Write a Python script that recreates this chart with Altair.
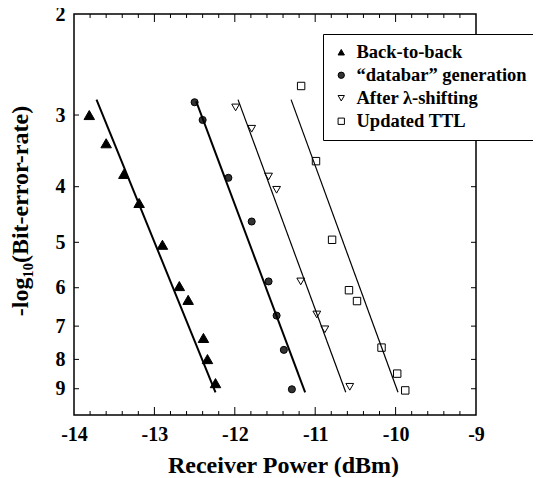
import altair as alt
import pandas as pd

series_names = ["Back-to-back", "\u201cdatabar\u201d generation", "After \u03bb-shifting", "Updated TTL"]

btb_x = [-13.81, -13.60, -13.38, -13.19, -12.90, -12.69, -12.58, -12.39, -12.34, -12.24]
btb_y = [3.00, 3.36, 3.80, 4.27, 5.05, 5.96, 6.30, 7.34, 7.99, 8.80]
db_x = [-12.50, -12.40, -12.08, -11.79, -11.58, -11.48, -11.39, -11.29]
db_y = [2.85, 3.06, 3.86, 4.60, 5.85, 6.71, 7.70, 9.02]
al_x = [-11.99, -11.79, -11.58, -11.48, -11.18, -10.98, -10.88, -10.57]
al_y = [2.91, 3.17, 3.84, 4.05, 5.85, 6.68, 7.09, 8.93]
ttl_x = [-11.175, -10.99, -10.79, -10.58, -10.48, -10.175, -9.98, -9.88]
ttl_y = [2.67, 3.61, 4.95, 6.06, 6.33, 7.63, 8.47, 9.06]

fit_x0 = [-13.72, -12.48, -11.96, -11.30]
fit_x1 = [-12.24, -11.125, -10.62, -9.97]
fit_y0 = [2.82, 2.84, 2.82, 2.82]
fit_y1 = [9.13, 9.13, 9.13, 9.13]

x_labels = [-14, -13, -12, -11, -10, -9]
x_major_ticks = [-13, -12, -11, -10]
x_minor_ticks = [-13.8, -13.6, -13.4, -13.2, -12.8, -12.6, -12.4, -12.2,
                 -11.8, -11.6, -11.4, -11.2, -10.8, -10.6, -10.4, -10.2,
                 -9.8, -9.6, -9.4, -9.2]
y_labels = [2, 3, 4, 5, 6, 7, 8, 9]
y_ticks = [3, 4, 5, 6, 7, 8, 9]

marker_sizes = [110, 50, 60, 55]
line_widths = [2, 2, 1.2, 1.2]

W, H = 402, 401
FONT = "Liberation Serif"

rows = []
for name, xs, ys in zip(series_names, [btb_x, db_x, al_x, ttl_x], [btb_y, db_y, al_y, ttl_y]):
    for a, b in zip(xs, ys):
        rows.append({"series": name, "power": a, "ber": b})
pts = pd.DataFrame(rows)

lrows = []
for name, a0, a1, b0, b1 in zip(series_names, fit_x0, fit_x1, fit_y0, fit_y1):
    lrows.append({"series": name, "power": a0, "ber": b0})
    lrows.append({"series": name, "power": a1, "ber": b1})
lines_df = pd.DataFrame(lrows)

xscale = alt.Scale(domain=[-14, -9], nice=False, zero=False)
yscale = alt.Scale(type="log", domain=[2, 10], reverse=True, nice=False)

xaxis = alt.Axis(values=x_labels, labelExpr="datum.value + ''", ticks=False, domain=False,
                 grid=False, labelPadding=9, labelFlush=False, title="Receiver Power (dBm)",
                 titleX=209, titleY=57, titleAlign="center", titleBaseline="alphabetic")
yaxis = alt.Axis(values=y_labels, labelExpr="datum.value + ''", ticks=False, domain=False,
                 grid=False, labelPadding=9, labelFlush=False,
                 title="-log\u2081\u2080(Bit-error-rate)",
                 titleX=-47, titleY=H / 2 - 4, titleAngle=-90, titleAlign="center",
                 titleBaseline="alphabetic")

legend = alt.Legend(orient="none", legendX=249, legendY=20, title=None,
                    strokeColor="black", fillColor="white", padding=9,
                    labelFont=FONT, labelFontWeight="bold", labelFontSize=18.5,
                    labelColor="black", labelLimit=400, symbolSize=40,
                    symbolStrokeWidth=1, rowPadding=4, labelOffset=6)

shape_scale = alt.Scale(domain=series_names,
                        range=["triangle-up", "circle", "triangle-down", "square"])
fill_scale = alt.Scale(domain=series_names, range=["black", "#333333", "white", "white"])

layers = []
for i, name in enumerate(series_names):
    enc = dict(
        x=alt.X("power:Q", scale=xscale),
        y=alt.Y("ber:Q", scale=yscale),
        shape=alt.Shape("series:N", scale=shape_scale, legend=legend),
        fill=alt.Fill("series:N", scale=fill_scale, legend=legend),
    )
    if i == 0:
        enc["x"] = alt.X("power:Q", scale=xscale, axis=xaxis)
        enc["y"] = alt.Y("ber:Q", scale=yscale, axis=yaxis)
    layers.append(
        alt.Chart(pts).transform_filter(alt.datum.series == name)
        .mark_point(filled=True, stroke="black", strokeWidth=1, opacity=1,
                    size=marker_sizes[i])
        .encode(**enc)
    )

for i, name in enumerate(series_names):
    layers.append(
        alt.Chart(lines_df).transform_filter(alt.datum.series == name)
        .mark_line(color="black", strokeWidth=line_widths[i])
        .encode(x=alt.X("power:Q", scale=xscale), y=alt.Y("ber:Q", scale=yscale))
    )

xmin_df = pd.DataFrame({"power": x_minor_ticks})
xmaj_df = pd.DataFrame({"power": x_major_ticks})
yt_df = pd.DataFrame({"ber": y_ticks})

def xrule(df, y0, y1):
    return alt.Chart(df).mark_rule(color="black", strokeWidth=1).encode(
        x=alt.X("power:Q", scale=xscale), y=alt.value(y0), y2=alt.value(y1))

def yrule(x0, x1):
    return alt.Chart(yt_df).mark_rule(color="black", strokeWidth=1).encode(
        y=alt.Y("ber:Q", scale=yscale), x=alt.value(x0), x2=alt.value(x1))

layers += [
    xrule(xmin_df, H, H - 4), xrule(xmin_df, 0, 4),
    xrule(xmaj_df, H, H - 8), xrule(xmaj_df, 0, 8),
    yrule(0, 5), yrule(W, W - 5),
]

chart = alt.layer(*layers).properties(
    width=W, height=H,
    autosize=alt.AutoSizeParams(type="none"),
    padding={"left": 66, "top": 6, "right": 57, "bottom": 62},
).configure_view(stroke="black", strokeWidth=1.5).configure_axis(
    labelFont=FONT, labelFontWeight="bold", labelFontSize=20, labelColor="black",
    titleFont=FONT, titleFontWeight="bold", titleFontSize=24, titleColor="black",
)

chart.save("out.html", embed_options={"renderer": "svg", "actions": False})
